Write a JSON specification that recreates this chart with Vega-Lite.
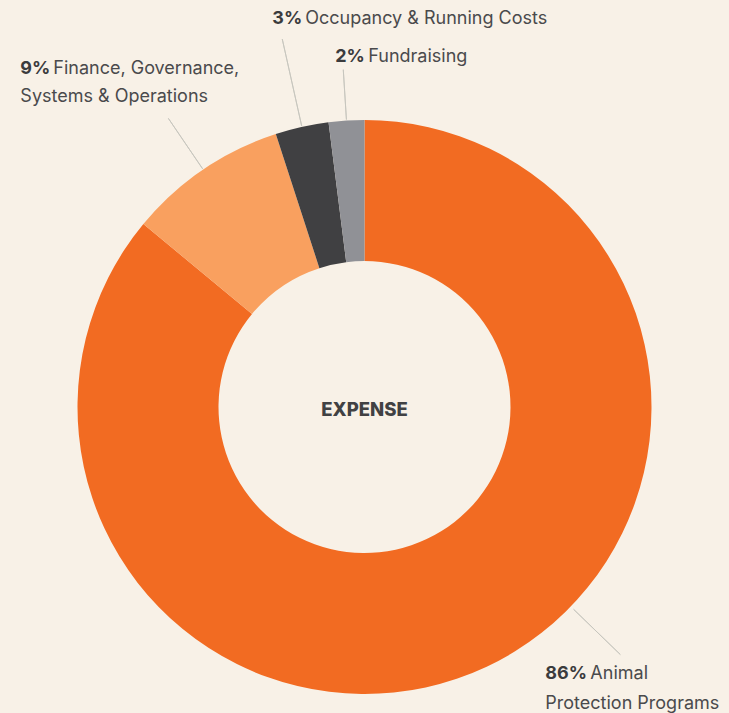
{
  "$schema": "https://vega.github.io/schema/vega-lite/v6.json",
  "autosize": "none",
  "width": 729,
  "height": 612,
  "padding": {"top": 101, "left": 0, "right": 0, "bottom": 0},
  "background": "#f8f1e7",
  "config": {"view": {"stroke": null}},
  "data": {"values": [
    {"category": "Animal Protection Programs", "pct": 86, "line1": "Animal", "line2": "Protection Programs"},
    {"category": "Finance, Governance, Systems & Operations", "pct": 9, "line1": "Finance, Governance,", "line2": "Systems & Operations"},
    {"category": "Occupancy & Running Costs", "pct": 3, "line1": "Occupancy & Running Costs", "line2": ""},
    {"category": "Fundraising", "pct": 2, "line1": "Fundraising", "line2": ""}
  ]},
  "transform": [
    {"window": [{"op": "row_number", "as": "idx"}, {"op": "sum", "field": "pct", "as": "cum"}], "frame": [null, 0]},
    {"joinaggregate": [{"op": "sum", "field": "pct", "as": "total"}]},
    {"calculate": "2*PI*(datum.cum - datum.pct/2)/datum.total", "as": "mid"},
    {"calculate": "datum.idx == 1 ? 2*PI*(datum.cum - datum.pct*0.567)/datum.total : datum.mid", "as": "lead"},
    {"calculate": "datum.lead + 0.00002", "as": "lead2"},
    {"calculate": "datum.pct + '%'", "as": "pctText"}
  ],
  "layer": [
    {
      "mark": {"type": "arc", "innerRadius": 146, "outerRadius": 287, "stroke": null},
      "encoding": {
        "theta": {"field": "pct", "type": "quantitative", "stack": true},
        "order": {"field": "idx", "type": "quantitative"},
        "color": {"field": "category", "type": "nominal", "legend": null,
          "scale": {"domain": ["Animal Protection Programs", "Finance, Governance, Systems & Operations", "Occupancy & Running Costs", "Fundraising"],
                    "range": ["#f26b22", "#f9a05f", "#404042", "#909196"]}}
      }
    },
    {
      "transform": [{"filter": "datum.idx == 1"}],
      "mark": {"type": "arc", "innerRadius": 291, "outerRadius": 356, "fill": "transparent", "stroke": "#c6c5bd", "strokeWidth": 0.9},
      "encoding": {"theta": {"field": "lead", "type": "quantitative", "scale": null, "stack": false}, "theta2": {"field": "lead2"}}
    },
    {
      "transform": [{"filter": "datum.idx == 2"}],
      "mark": {"type": "arc", "innerRadius": 288, "outerRadius": 349, "fill": "transparent", "stroke": "#c6c5bd", "strokeWidth": 0.9},
      "encoding": {"theta": {"field": "lead", "type": "quantitative", "scale": null, "stack": false}, "theta2": {"field": "lead2"}}
    },
    {
      "transform": [{"filter": "datum.idx == 3"}],
      "mark": {"type": "arc", "innerRadius": 288, "outerRadius": 377, "fill": "transparent", "stroke": "#c6c5bd", "strokeWidth": 0.9},
      "encoding": {"theta": {"field": "lead", "type": "quantitative", "scale": null, "stack": false}, "theta2": {"field": "lead2"}}
    },
    {
      "transform": [{"filter": "datum.idx == 4"}],
      "mark": {"type": "arc", "innerRadius": 288, "outerRadius": 338, "fill": "transparent", "stroke": "#c6c5bd", "strokeWidth": 0.9},
      "encoding": {"theta": {"field": "lead", "type": "quantitative", "scale": null, "stack": false}, "theta2": {"field": "lead2"}}
    },
    {
      "transform": [{"filter": "datum.idx == 1"}],
      "mark": {"type": "text", "align": "left", "baseline": "alphabetic", "radius": 356, "dx": -75, "dy": 24, "font": "Inter", "fontSize": 18, "fontWeight": "bold", "color": "#3b3b3d"},
      "encoding": {"theta": {"field": "lead", "type": "quantitative", "scale": null, "stack": false}, "text": {"field": "pctText"}}
    },
    {
      "transform": [{"filter": "datum.idx == 1"}],
      "mark": {"type": "text", "align": "left", "baseline": "alphabetic", "radius": 356, "dx": -30, "dy": 24, "font": "Inter", "fontSize": 18, "color": "#4a4a4c"},
      "encoding": {"theta": {"field": "lead", "type": "quantitative", "scale": null, "stack": false}, "text": {"field": "line1"}}
    },
    {
      "transform": [{"filter": "datum.idx == 1"}],
      "mark": {"type": "text", "align": "left", "baseline": "alphabetic", "radius": 356, "dx": -75, "dy": 54, "font": "Inter", "fontSize": 18, "color": "#4a4a4c"},
      "encoding": {"theta": {"field": "lead", "type": "quantitative", "scale": null, "stack": false}, "text": {"field": "line2"}}
    },
    {
      "transform": [{"filter": "datum.idx == 2"}],
      "mark": {"type": "text", "align": "left", "baseline": "alphabetic", "radius": 349, "dx": -148, "dy": -44, "font": "Inter", "fontSize": 18, "fontWeight": "bold", "color": "#3b3b3d"},
      "encoding": {"theta": {"field": "lead", "type": "quantitative", "scale": null, "stack": false}, "text": {"field": "pctText"}}
    },
    {
      "transform": [{"filter": "datum.idx == 2"}],
      "mark": {"type": "text", "align": "left", "baseline": "alphabetic", "radius": 349, "dx": -115, "dy": -44, "font": "Inter", "fontSize": 18, "color": "#4a4a4c"},
      "encoding": {"theta": {"field": "lead", "type": "quantitative", "scale": null, "stack": false}, "text": {"field": "line1"}}
    },
    {
      "transform": [{"filter": "datum.idx == 2"}],
      "mark": {"type": "text", "align": "left", "baseline": "alphabetic", "radius": 349, "dx": -148, "dy": -16, "font": "Inter", "fontSize": 18, "color": "#4a4a4c"},
      "encoding": {"theta": {"field": "lead", "type": "quantitative", "scale": null, "stack": false}, "text": {"field": "line2"}}
    },
    {
      "transform": [{"filter": "datum.idx == 3"}],
      "mark": {"type": "text", "align": "left", "baseline": "alphabetic", "radius": 377, "dx": -10, "dy": -15, "font": "Inter", "fontSize": 18, "fontWeight": "bold", "color": "#3b3b3d"},
      "encoding": {"theta": {"field": "lead", "type": "quantitative", "scale": null, "stack": false}, "text": {"field": "pctText"}}
    },
    {
      "transform": [{"filter": "datum.idx == 3"}],
      "mark": {"type": "text", "align": "left", "baseline": "alphabetic", "radius": 377, "dx": 23, "dy": -15, "font": "Inter", "fontSize": 18, "color": "#4a4a4c"},
      "encoding": {"theta": {"field": "lead", "type": "quantitative", "scale": null, "stack": false}, "text": {"field": "line1"}}
    },
    {
      "transform": [{"filter": "datum.idx == 4"}],
      "mark": {"type": "text", "align": "left", "baseline": "alphabetic", "radius": 338, "dx": -8, "dy": -8, "font": "Inter", "fontSize": 18, "fontWeight": "bold", "color": "#3b3b3d"},
      "encoding": {"theta": {"field": "lead", "type": "quantitative", "scale": null, "stack": false}, "text": {"field": "pctText"}}
    },
    {
      "transform": [{"filter": "datum.idx == 4"}],
      "mark": {"type": "text", "align": "left", "baseline": "alphabetic", "radius": 338, "dx": 25, "dy": -8, "font": "Inter", "fontSize": 18, "color": "#4a4a4c"},
      "encoding": {"theta": {"field": "lead", "type": "quantitative", "scale": null, "stack": false}, "text": {"field": "line1"}}
    },
    {
      "transform": [{"filter": "datum.idx == 1"}],
      "mark": {"type": "text", "align": "center", "baseline": "middle", "radius": 0, "dy": 3, "font": "Inter", "fontSize": 18.5, "fontWeight": 800, "color": "#414143"},
      "encoding": {"theta": {"value": 0}, "text": {"value": "EXPENSE"}}
    }
  ]
}
